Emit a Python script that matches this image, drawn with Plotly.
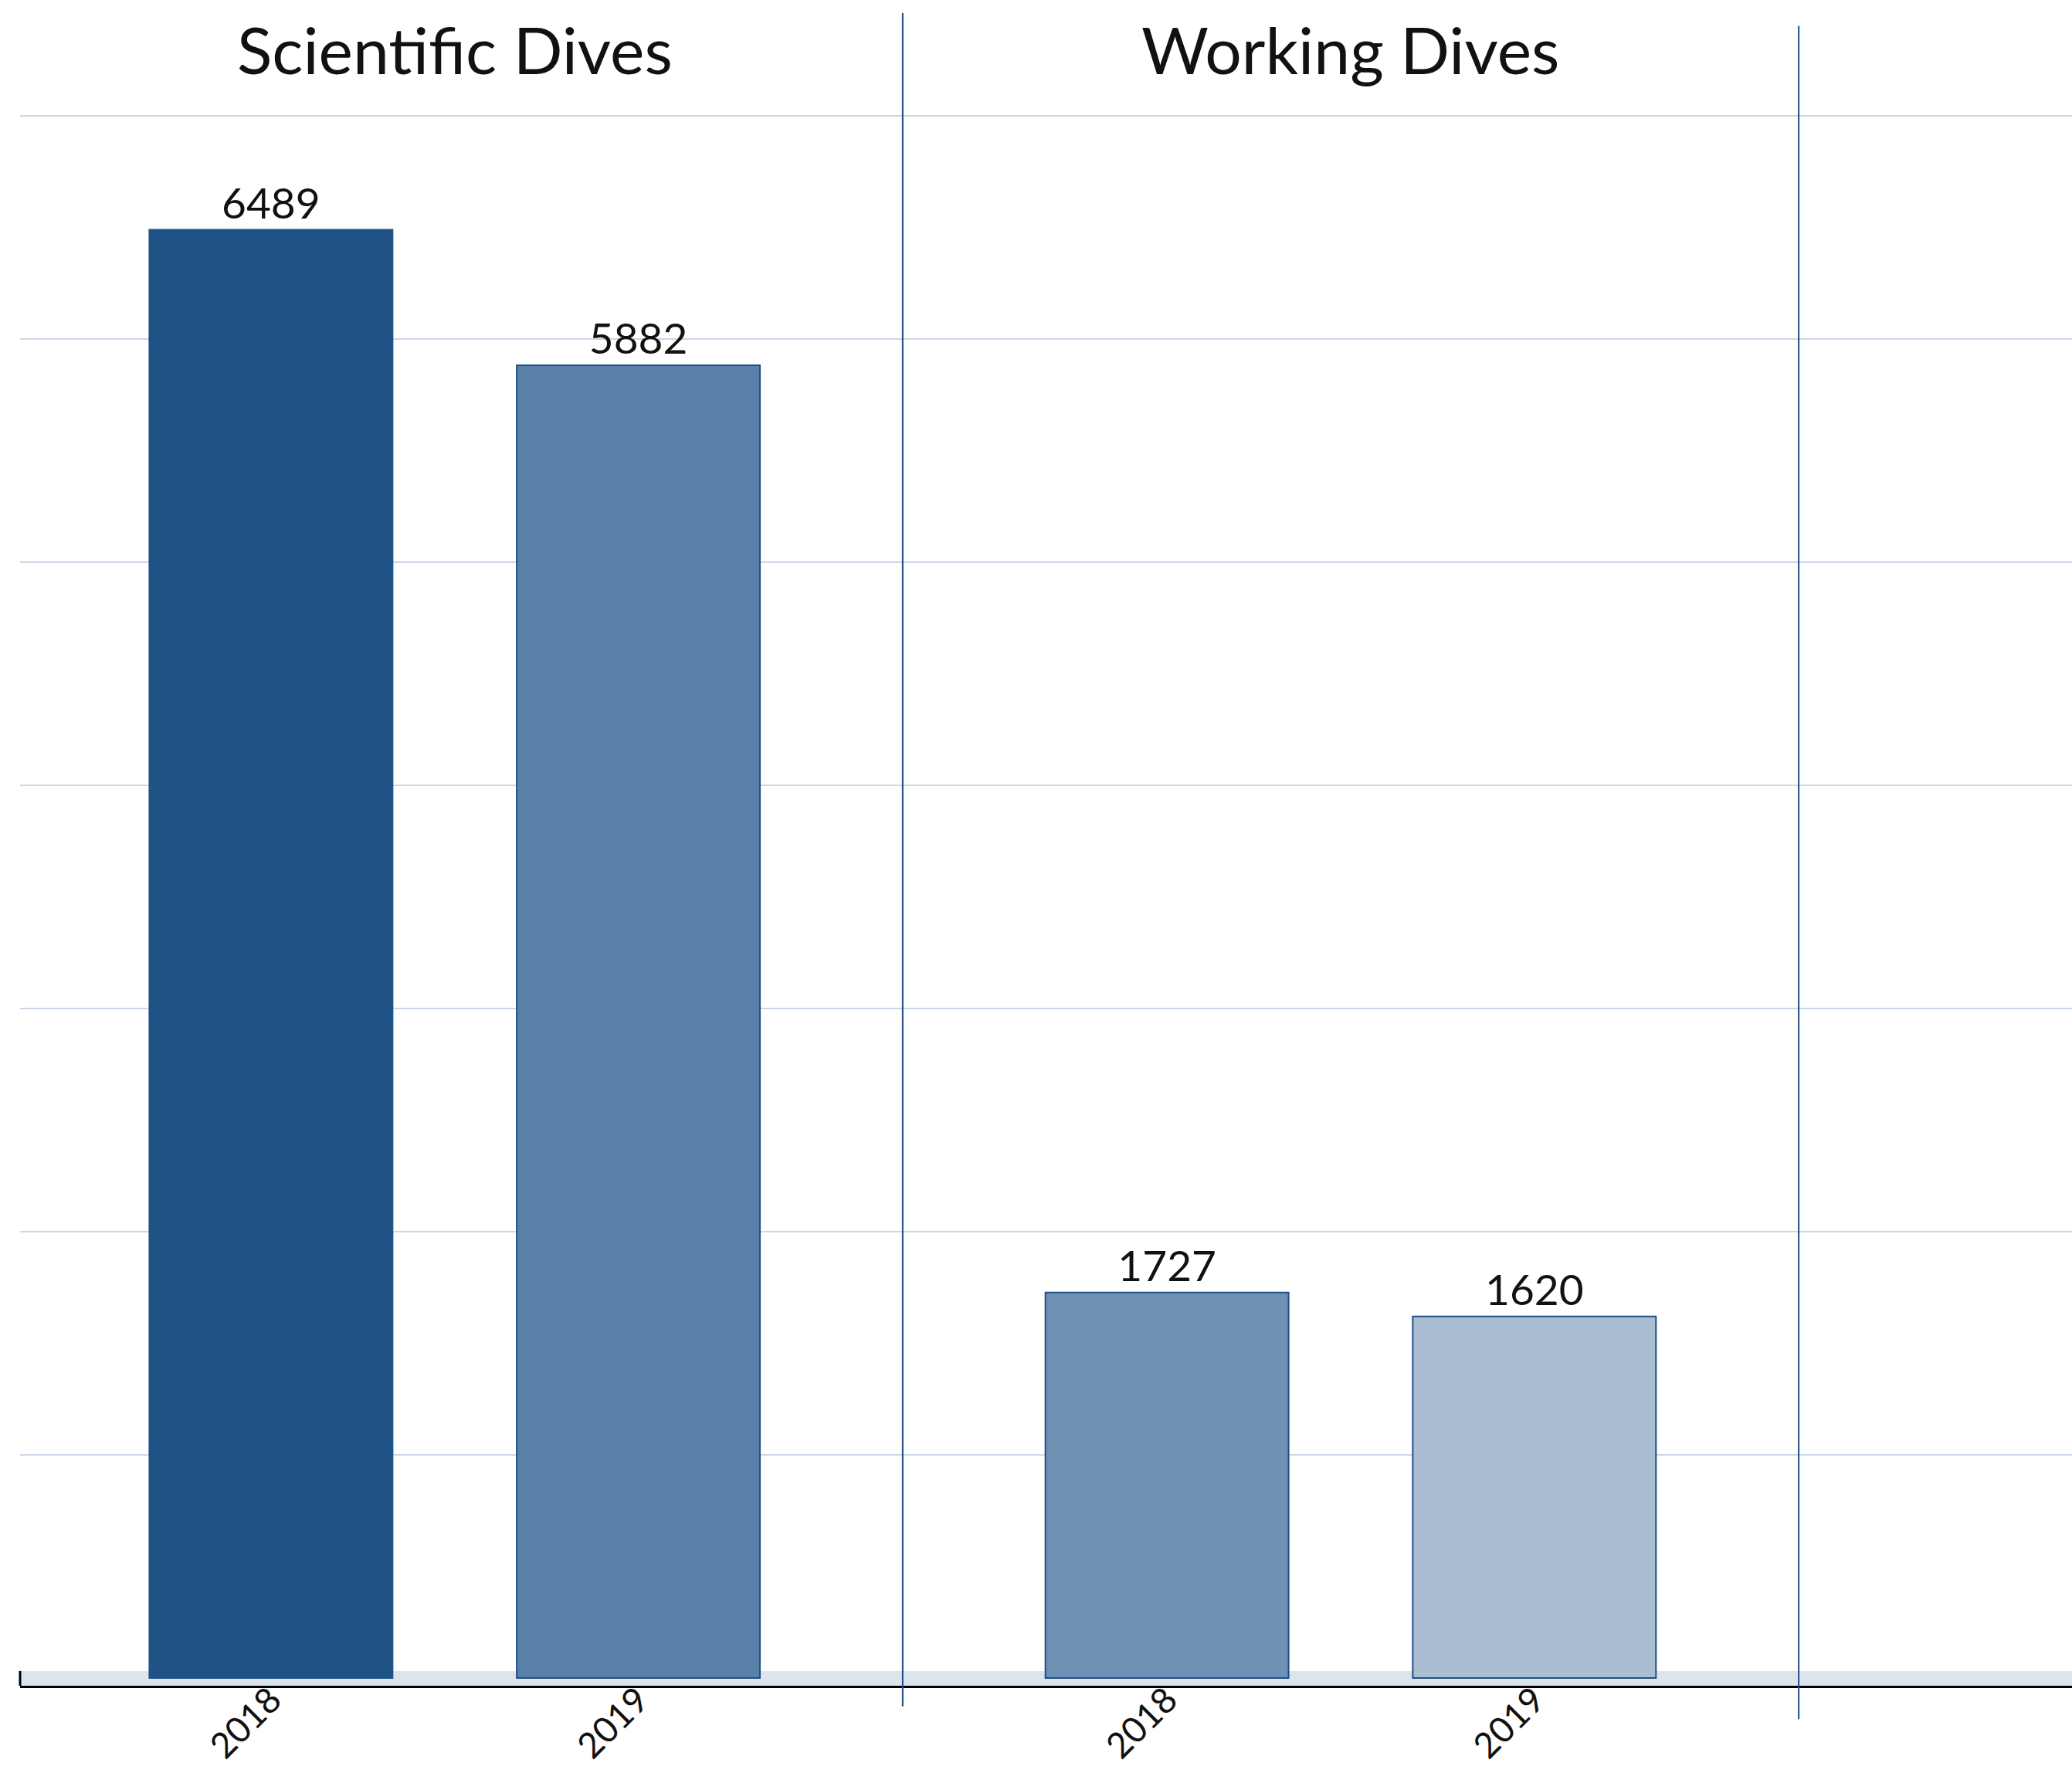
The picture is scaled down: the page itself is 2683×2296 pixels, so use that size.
import plotly.graph_objects as go

# ---- data ----
groups = ["Scientific Dives", "Working Dives"]
years = ["2018", "2019"]
values_2018 = [6489, 1727]
values_2019 = [5882, 1620]
grid_values = [1000, 2000, 3000, 4000, 5000, 6000, 7000]

# ---- styles ----
fill_2018 = ["#1f5386", "#6f91b3"]
fill_2019 = ["#5a7fa8", "#aabdd3"]
edge_2018 = ["#1f5386", "#1f4f86"]
edge_2019 = ["#1f4f86", "#1f4f86"]
FONT = "Lato, 'Noto Sans', sans-serif"

BARGAP = 0.18
BARGROUPGAP = 0.338
W, H = 2683, 2296
M_L, M_R, M_T, M_B = 26, 0, 123, 113
plot_h = H - M_T - M_B
X_RANGE = [-0.485, 1.805]
Y_RANGE = [-35, 7093]

group_pos = list(range(len(groups)))
slot = (1 - BARGAP) / len(years)
offsets = [(j - (len(years) - 1) / 2) * slot for j in range(len(years))]

fig = go.Figure()
series = [(years[0], values_2018, fill_2018, edge_2018),
          (years[1], values_2019, fill_2019, edge_2019)]
for yr, vals, fills, edges in series:
    fig.add_trace(go.Bar(
        x=group_pos, y=vals, name=yr,
        marker=dict(color=fills, line=dict(color=edges, width=2)),
        text=[str(v) for v in vals], textposition="outside",
        textfont=dict(family=FONT, size=55, color="#111111"),
        cliponaxis=False,
    ))

tickvals = [g + off for g in group_pos for off in offsets]
ticktext = [yr for g in group_pos for yr in years]

# floor band and short left edge
shapes = [
    dict(type="rect", xref="paper", yref="y", x0=0, x1=1, y0=Y_RANGE[0], y1=31,
         fillcolor="#dde5ec", line=dict(width=0), layer="below"),
    dict(type="line", xref="paper", yref="y", x0=0, x1=0, y0=Y_RANGE[0], y1=31,
         line=dict(color="#000000", width=3)),
]
# group dividers
div_extent = [(-0.013, 1.0515), (-0.021, 1.0435)]
for g, (lo, hi) in zip(group_pos, div_extent):
    shapes.append(dict(type="line", xref="x", yref="paper", x0=g + 0.5, x1=g + 0.5,
                       y0=lo, y1=hi, line=dict(color="#1f4f86", width=2)))

annotations = [
    dict(x=g, xref="x", y=1 + 60 / plot_h, yref="paper", text=name, showarrow=False,
         xanchor="center", yanchor="middle",
         font=dict(family=FONT, size=84, color="#111111"))
    for g, name in zip(group_pos, groups)
]

fig.update_layout(
    width=W, height=H,
    margin=dict(l=M_L, r=M_R, t=M_T, b=M_B, autoexpand=False),
    paper_bgcolor="white", plot_bgcolor="white",
    barmode="group", bargap=BARGAP, bargroupgap=BARGROUPGAP,
    showlegend=False,
    shapes=shapes, annotations=annotations,
    xaxis=dict(range=X_RANGE, showgrid=False, zeroline=False, automargin=False,
               showline=True, linecolor="#000000", linewidth=3,
               tickmode="array", tickvals=tickvals, ticktext=ticktext,
               tickangle=-45, ticks="", ticklabelstandoff=-30,
               tickfont=dict(family=FONT, size=46, color="#111111")),
    yaxis=dict(range=Y_RANGE, tickmode="array", tickvals=grid_values, automargin=False,
               showticklabels=False, showgrid=True, gridcolor="#c9d7e6",
               gridwidth=2, zeroline=False, showline=False, ticks=""),
)

fig.write_html("out.html")
